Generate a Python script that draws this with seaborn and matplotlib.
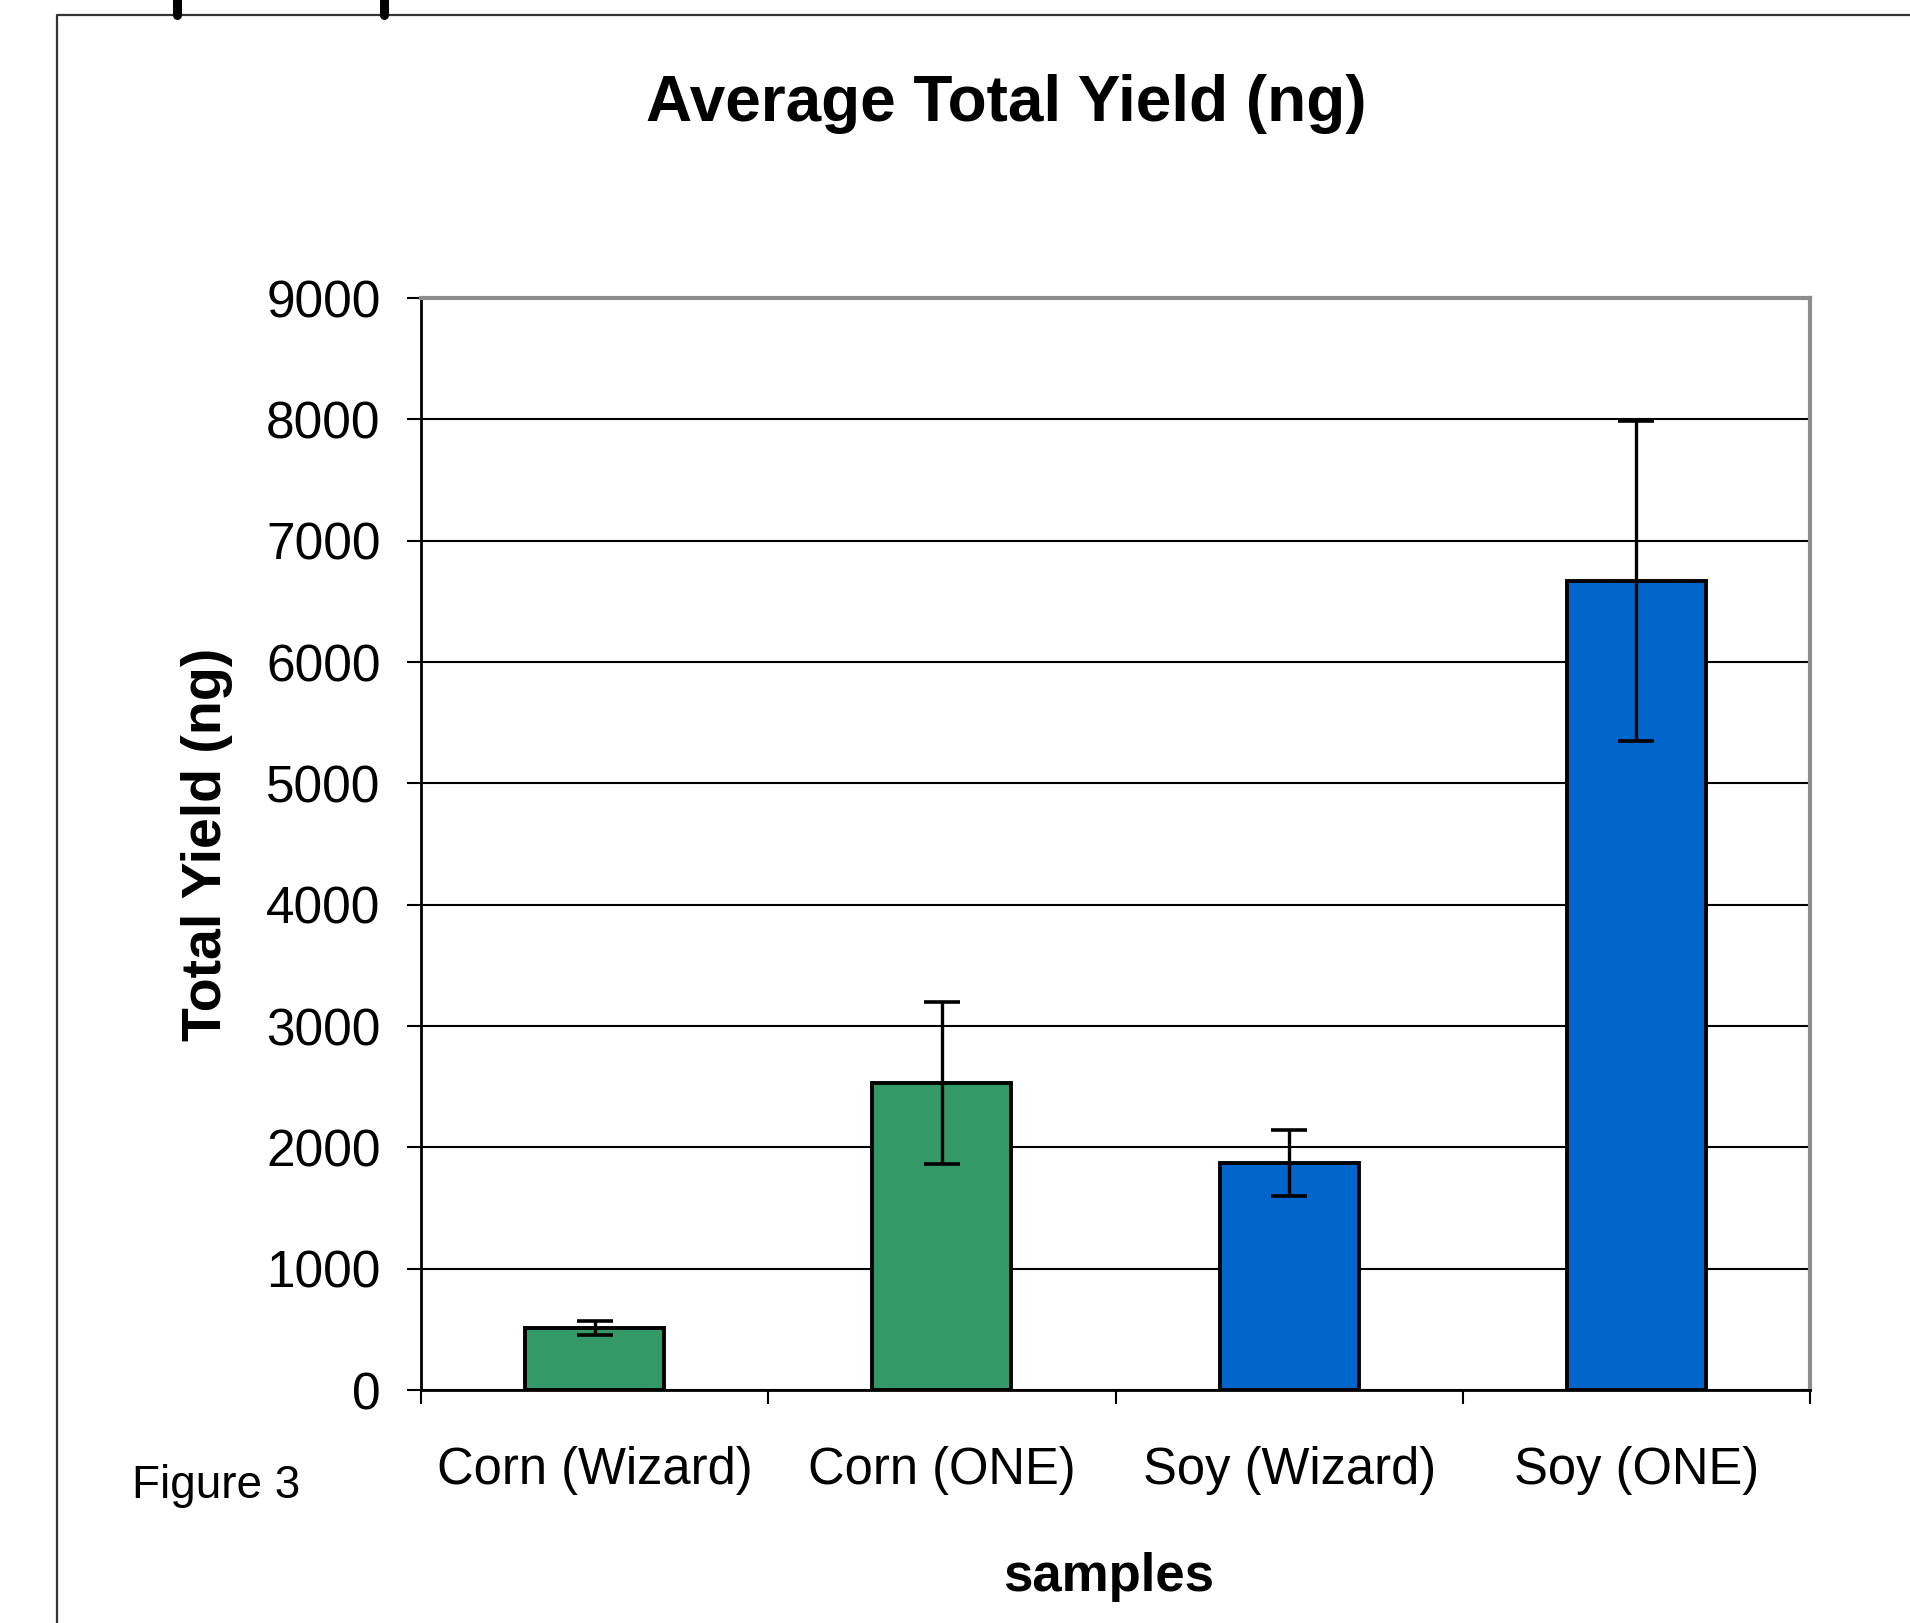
import matplotlib
matplotlib.use("Agg")
import matplotlib.pyplot as plt
import seaborn as sns
from matplotlib.lines import Line2D

samples = ["Corn (Wizard)", "Corn (ONE)", "Soy (Wizard)", "Soy (ONE)"]
yields = [510, 2530, 1870, 6670]
errs = [60, 670, 270, 1320]
bar_colors = ["#339966", "#339966", "#0066CC", "#0066CC"]
yticks = [0, 1000, 2000, 3000, 4000, 5000, 6000, 7000, 8000, 9000]

sns.set_style("white")
plt.rcParams["font.family"] = ["Liberation Sans", "DejaVu Sans"]
plt.rcParams["text.color"] = "black"
plt.rcParams["axes.labelcolor"] = "black"
plt.rcParams["xtick.color"] = "black"
plt.rcParams["ytick.color"] = "black"

fig = plt.figure(figsize=(19.1, 16.23), dpi=100)
ax = fig.add_axes([421 / 1910, 233 / 1623, 1389 / 1910, 1092 / 1623])

sns.barplot(x=samples, y=yields, hue=samples, palette=bar_colors,
            width=0.4, edgecolor="black", linewidth=2.8, saturation=1,
            legend=False, ax=ax, zorder=2)

ax.errorbar(range(len(samples)), yields, yerr=errs, fmt="none",
            ecolor="black", elinewidth=2.4, capsize=13, capthick=2.6, zorder=3)

ax.set_ylim(0, 9000)
ax.set_xlim(-0.5, 3.5)
ax.set_yticks(yticks)
ax.yaxis.grid(True, color="black", linewidth=1.5)
ax.set_axisbelow(True)

# category boundaries get the tick marks
ax.set_xticks([-0.5, 0.5, 1.5, 2.5, 3.5], minor=True)
ax.tick_params(axis="x", which="minor", length=10, width=1.5, color="black", direction="out", bottom=True)
ax.tick_params(axis="x", which="major", length=0, pad=40, labelsize=36.5, labelcolor="black")
ax.tick_params(axis="y", length=10, width=1.5, color="black", direction="out", left=True, pad=19,
               labelsize=37, labelcolor="black")

for side in ["left", "bottom"]:
    ax.spines[side].set_color("black")
    ax.spines[side].set_linewidth(2)
for side in ["top", "right"]:
    ax.spines[side].set_color("#8c8c8c")
    ax.spines[side].set_linewidth(3)
    ax.spines[side].set_visible(True)

ax.set_ylabel("Total Yield (ng)", fontsize=40, fontweight="bold", color="black")
ax.yaxis.label.set_va("center")
ax.yaxis.set_label_coords(-0.154, 0.5)
ax.set_xlabel("samples", fontsize=38, fontweight="bold", color="black")
ax.xaxis.label.set_va("center")
ax.xaxis.set_label_coords(0.495, -0.171)

fig.text(1006 / 1910, 1 - 104 / 1623, "Average Total Yield (ng)",
         ha="center", va="center", fontsize=46, fontweight="bold", color="black")
fig.text(132 / 1910, 1 - 1486 / 1623, "Figure 3", ha="left", va="center", fontsize=33, color="black")

# outer frame of the page and cut off marks at the top
fig.add_artist(Line2D([57 / 1910, 57 / 1910, 1.0], [0.0, 1 - 15 / 1623, 1 - 15 / 1623],
                      transform=fig.transFigure, color="#333333", linewidth=1.6))
for xs in [177, 384]:
    fig.add_artist(Line2D([xs / 1910, xs / 1910], [1 - 15 / 1623, 1.0],
                          transform=fig.transFigure, color="black", linewidth=6.5))

fig.savefig("out.png", dpi=100)
